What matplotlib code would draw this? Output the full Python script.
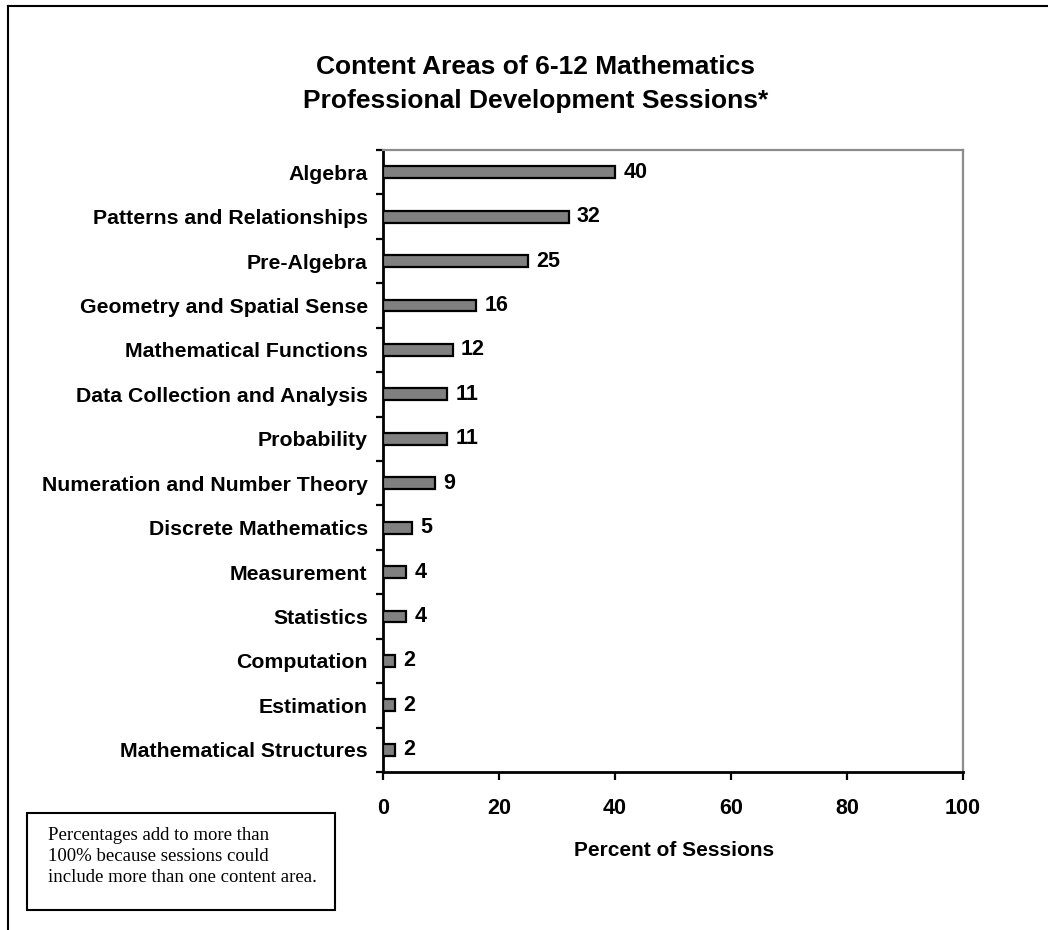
import matplotlib
matplotlib.use('Agg')
import matplotlib.pyplot as plt
from matplotlib.patches import Rectangle
from matplotlib.lines import Line2D
import numpy as np

# ─────────────────────────────────────────
# DATA
# ─────────────────────────────────────────
categories = [
    'Algebra',
    'Patterns and Relationships',
    'Pre-Algebra',
    'Geometry and Spatial Sense',
    'Mathematical Functions',
    'Data Collection and Analysis',
    'Probability',
    'Numeration and Number Theory',
    'Discrete Mathematics',
    'Measurement',
    'Statistics',
    'Computation',
    'Estimation',
    'Mathematical Structures',
]
percent_sessions = [40, 32, 25, 16, 12, 11, 11, 9, 5, 4, 4, 2, 2, 2]
x_ticks = [0, 20, 40, 60, 80, 100]

title_lines = ['Content Areas of 6-12 Mathematics',
               'Professional Development Sessions*']
x_label = 'Percent of Sessions'
note = ('Percentages add to more than\n'
        '100% because sessions could\n'
        'include more than one content area.')

W, H = 1048, 930
SANS = ['Liberation Sans', 'DejaVu Sans']
SERIF = ['Liberation Serif', 'DejaVu Serif']


def px(x, y):
    # pixel position (from top-left) -> figure fraction
    return x / W, 1 - y / H


fig = plt.figure(figsize=(W / 100, H / 100), dpi=100)
fig.patch.set_facecolor('white')

# plot box: x from 383 to 963 px, y from 150 to 772 px
ax = fig.add_axes([383 / W, 1 - 772 / H, (963 - 383) / W, (772 - 150) / H])

y = np.arange(len(categories))
ax.barh(y, percent_sessions, height=0.27, color='#808080',
        edgecolor='black', linewidth=1.6, zorder=3)

for yi, val in zip(y, percent_sessions):
    ax.annotate(f'{val}', xy=(val, yi), xytext=(6, 0),
                textcoords='offset points', va='center', ha='left',
                fontsize=15.5, fontweight='bold', family=SANS)

ax.set_xlim(0, 100)
ax.set_ylim(len(categories) - 0.5, -0.5)

# category labels at the centres, tick marks at the boundaries
ax.set_yticks(np.arange(len(categories) + 1) - 0.5)
ax.set_yticklabels([])
ax.set_yticks(y, minor=True)
ax.set_yticklabels(categories, minor=True, fontsize=15.3,
                   fontweight='bold', family=SANS)
ax.tick_params(axis='y', which='major', direction='out', length=5,
               width=1.6, color='black')
ax.tick_params(axis='y', which='minor', length=0, pad=11)

ax.set_xticks(x_ticks)
ax.set_xticklabels([str(t) for t in x_ticks], fontsize=15.5,
                   fontweight='bold', family=SANS)
ax.tick_params(axis='x', direction='out', length=6, width=1.6,
               color='black', pad=13)

for side in ['left', 'bottom']:
    ax.spines[side].set_color('black')
    ax.spines[side].set_linewidth(2)
for side in ['top', 'right']:
    ax.spines[side].set_color('#8c8c8c')
    ax.spines[side].set_linewidth(1.6)

# title (two lines) and axis label
for line, ty_px in zip(title_lines, [67, 101]):
    tx, ty = px(536, ty_px)
    fig.text(tx, ty, line, ha='center', va='center', fontsize=19,
             fontweight='bold', family=SANS)
lx, ly = px(674, 850)
fig.text(lx, ly, x_label, ha='center', va='center', fontsize=15,
         fontweight='bold', family=SANS)

# footnote box
bx0, by0 = px(27, 910)
bx1, by1 = px(335, 813)
fig.add_artist(Rectangle((bx0, by0), bx1 - bx0, by1 - by0,
                         transform=fig.transFigure, fill=False,
                         edgecolor='black', linewidth=1.5))
nx, ny = px(48, 827)
fig.text(nx, ny, note, ha='left', va='top', fontsize=13.5,
         family=SERIF, linespacing=1.3)

# outer frame: top and left edges
fig.add_artist(Line2D([8 / W, 1], [1 - 6 / H, 1 - 6 / H],
                      transform=fig.transFigure, color='black', linewidth=1.5))
fig.add_artist(Line2D([8 / W, 8 / W], [0, 1 - 6 / H],
                      transform=fig.transFigure, color='black', linewidth=1.5))

plt.savefig('out.png', dpi=100)
plt.close()
